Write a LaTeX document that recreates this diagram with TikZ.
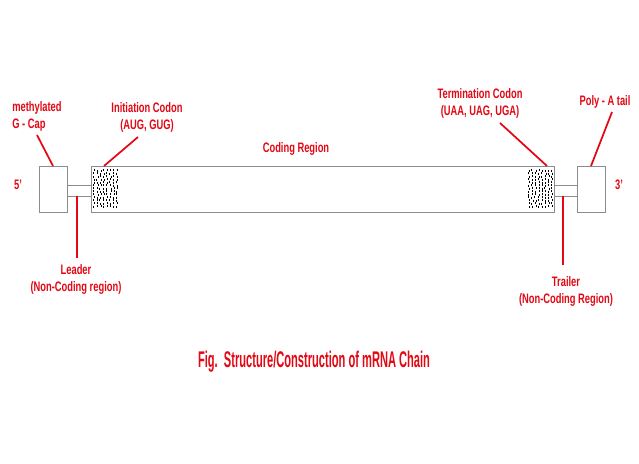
\documentclass[tikz,border=0pt]{standalone}
\usepackage{fontspec}
\setmainfont{Liberation Sans}
\newfontfamily\lblfont{Liberation Sans}[FakeStretch=0.68]
\newfontfamily\capfont{Liberation Sans}[FakeStretch=0.49]
\definecolor{rd}{RGB}{226,8,20}
\definecolor{edge}{RGB}{140,140,140}
\begin{document}
\begin{tikzpicture}[x=0.75pt,y=-0.75pt,
  box/.style={draw=edge, line width=0.7pt, inner sep=0pt, outer sep=0pt, fill=white},
  lbl/.style={text=rd, font=\lblfont\bfseries\fontsize{10.3}{12.75}\selectfont, align=center, inner sep=0pt},
  ptr/.style={draw=rd, line width=1.3pt},
  speck/.style={draw=black, line width=0.65pt}]
\useasboundingbox[fill=white] (0,0) rectangle (639,464);

% connectors (leader / trailer)
\node[box, minimum width=18pt, minimum height=8.25pt] (lead) at (79,190.5) {};
\node[box, minimum width=17.25pt, minimum height=8.25pt] (trail) at (565.5,190.5) {};
% boxes
\node[box, minimum width=21pt, minimum height=34.5pt] (cap) at (53,189) {};
\node[box, minimum width=347.25pt, minimum height=34.5pt] (main) at (322.5,189) {};
\node[box, minimum width=21pt, minimum height=34.5pt] (tail) at (591,189) {};

% speckled codon regions
\pgfmathsetseed{7}
\foreach \x in {94,97.3,...,117.5}{
  \foreach \y in {168.5,171.5,...,207}{
    \pgfmathsetmacro\dx{rnd*1.6-0.8}
    \pgfmathsetmacro\dy{rnd*1.6}
    \draw[speck] ({\x+\dx},{\y+\dy}) -- ++(0,2);
  }
}
\foreach \x in {529,532.3,...,552.5}{
  \foreach \y in {168.5,171.5,...,207}{
    \pgfmathsetmacro\dx{rnd*1.6-0.8}
    \pgfmathsetmacro\dy{rnd*1.6}
    \draw[speck] ({\x+\dx},{\y+\dy}) -- ++(0,2);
  }
}

% labels
\node[lbl, align=left, anchor=west] (meth) at (12,116.5) {methylated\\G - Cap};
\node[lbl] (init) at (147,117) {Initiation Codon\\(AUG, GUG)};
\node[lbl] (coding) at (296,149) {Coding Region};
\node[lbl] (term) at (480,103.5) {Termination Codon\\(UAA, UAG, UGA)};
\node[lbl] (poly) at (605,102) {Poly - A tail};
\node[lbl] (five) at (18,185) {5’};
\node[lbl] (three) at (619,185) {3’};
\node[lbl] (leadlbl) at (76,279.5) {Leader\\(Non-Coding region)};
\node[lbl] (traillbl) at (566,291) {Trailer\\(Non-Coding Region)};
\node[text=rd, font=\capfont\bfseries\fontsize{17}{20}\selectfont, inner sep=0pt] (caption) at (314,362) {Fig.\ \ Structure/Construction of mRNA Chain};

% pointer lines
\coordinate (m1) at (37,135);
\coordinate (i1) at (138,137);
\coordinate (i2) at (104,166);
\coordinate (t1) at (500,123);
\coordinate (t2) at (547,166);
\coordinate (p1) at (612,112);
\coordinate (l2) at (77,258);
\coordinate (r2) at (563,265);
\draw[ptr] (m1) -- (cap.north);
\draw[ptr] (i1) -- (i2);
\draw[ptr] (t1) -- (t2);
\draw[ptr] (p1) -- (tail.north);
\draw[ptr] (lead.south) ++(-2,0) -- (l2);
\draw[ptr] (trail.south) ++(-2.5,0) -- (r2);
\end{tikzpicture}
\end{document}
